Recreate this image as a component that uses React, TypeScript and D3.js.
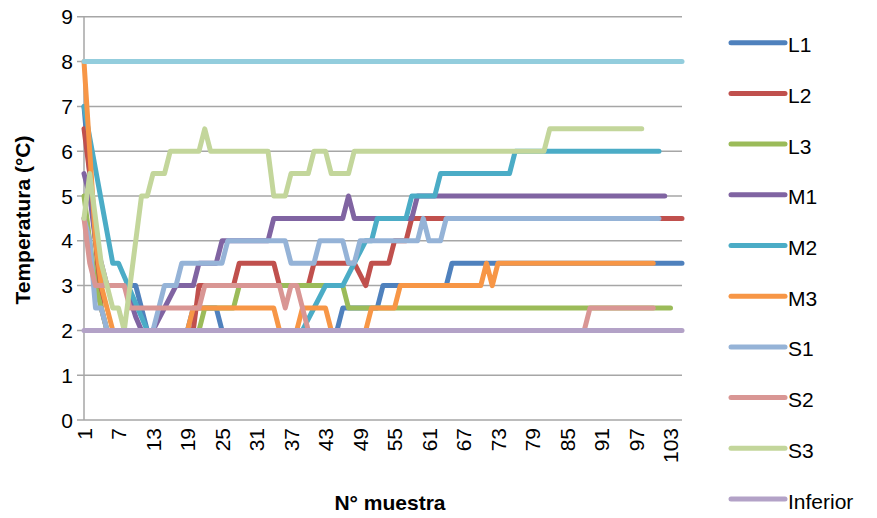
import React from "react";
import * as d3 from "d3";

const categories: number[] = d3.range(1, 106);
const tickLabels = ["1", "7", "13", "19", "25", "31", "37", "43", "49", "55", "61", "67", "73", "79", "85", "91", "97", "103"];
const yTicks = [0, 1, 2, 3, 4, 5, 6, 7, 8, 9];

const L1 = [
  7, 5.5, 4, 3, 3, 3, 3, 3, 3, 3,
  2.5, 2, 2, 2, 2, 2, 2, 2, 2, 2.5,
  2.5, 2.5, 2.5, 2.5, 2, 2, 2, 2, 2, 2,
  2, 2, 2, 2, 2, 2, 2, 2, 2, 2,
  2, 2, 2, 2, 2, 2.5, 2.5, 2.5, 2.5, 2.5,
  2.5, 2.5, 3, 3, 3, 3, 3, 3, 3, 3,
  3, 3, 3, 3, 3.5, 3.5, 3.5, 3.5, 3.5, 3.5,
  3.5, 3.5, 3.5, 3.5, 3.5, 3.5, 3.5, 3.5, 3.5, 3.5,
  3.5, 3.5, 3.5, 3.5, 3.5, 3.5, 3.5, 3.5, 3.5, 3.5,
  3.5, 3.5, 3.5, 3.5, 3.5, 3.5, 3.5, 3.5, 3.5, 3.5,
  3.5, 3.5, 3.5, 3.5, 3.5,
];
const L2 = [
  6.5, 5.5, 4, 2.5, 2, 2, 2, 2, 2, 2,
  2, 2, 2, 2, 2, 2, 2, 2, 2, 2,
  3, 3, 3, 3, 3, 3, 3, 3.5, 3.5, 3.5,
  3.5, 3.5, 3.5, 3.5, 3, 3, 3, 3, 3, 3,
  3.5, 3.5, 3.5, 3.5, 3.5, 3.5, 3.5, 3.5, 3.25, 3,
  3.5, 3.5, 3.5, 3.5, 4, 4, 4, 4.5, 4.5, 4.5,
  4.5, 4.5, 4.5, 4.5, 4.5, 4.5, 4.5, 4.5, 4.5, 4.5,
  4.5, 4.5, 4.5, 4.5, 4.5, 4.5, 4.5, 4.5, 4.5, 4.5,
  4.5, 4.5, 4.5, 4.5, 4.5, 4.5, 4.5, 4.5, 4.5, 4.5,
  4.5, 4.5, 4.5, 4.5, 4.5, 4.5, 4.5, 4.5, 4.5, 4.5,
  4.5, 4.5, 4.5, 4.5, 4.5,
];
const L3 = [
  5, 4, 3, 2.5, 2, 2, 2, 2, 2, 2,
  2, 2, 2, 2, 2, 2, 2, 2, 2, 2,
  2, 2.5, 2.5, 2.5, 2.5, 2.5, 2.5, 3, 3, 3,
  3, 3, 3, 3, 3, 3, 3, 3, 3, 3,
  3, 3, 3, 3, 3, 3, 2.5, 2.5, 2.5, 2.5,
  2.5, 2.5, 2.5, 2.5, 2.5, 2.5, 2.5, 2.5, 2.5, 2.5,
  2.5, 2.5, 2.5, 2.5, 2.5, 2.5, 2.5, 2.5, 2.5, 2.5,
  2.5, 2.5, 2.5, 2.5, 2.5, 2.5, 2.5, 2.5, 2.5, 2.5,
  2.5, 2.5, 2.5, 2.5, 2.5, 2.5, 2.5, 2.5, 2.5, 2.5,
  2.5, 2.5, 2.5, 2.5, 2.5, 2.5, 2.5, 2.5, 2.5, 2.5,
  2.5, 2.5, 2.5,
];
const M1 = [
  5.5, 5, 4, 3.5, 3, 3, 3, 3, 2.7, 2.3,
  2, 2, 2, 2.25, 2.5, 2.75, 3, 3, 3, 3,
  3.5, 3.5, 3.5, 3.5, 4, 4, 4, 4, 4, 4,
  4, 4, 4, 4.5, 4.5, 4.5, 4.5, 4.5, 4.5, 4.5,
  4.5, 4.5, 4.5, 4.5, 4.5, 4.5, 5, 4.5, 4.5, 4.5,
  4.5, 4.5, 4.5, 4.5, 4.5, 4.5, 4.5, 4.5, 5, 5,
  5, 5, 5, 5, 5, 5, 5, 5, 5, 5,
  5, 5, 5, 5, 5, 5, 5, 5, 5, 5,
  5, 5, 5, 5, 5, 5, 5, 5, 5, 5,
  5, 5, 5, 5, 5, 5, 5, 5, 5, 5,
  5, 5,
];
const M2 = [
  7, 6.3, 5.6, 4.9, 4.2, 3.5, 3.5, 3.2, 2.9, 2.6,
  2.3, 2, 2, 2, 2, 2, 2, 2, 2, 2,
  2, 2, 2, 2, 2, 2, 2, 2, 2, 2,
  2, 2, 2, 2, 2, 2, 2, 2, 2, 2.25,
  2.5, 2.75, 3, 3, 3, 3, 3.25, 3.5, 3.75, 4,
  4, 4.5, 4.5, 4.5, 4.5, 4.5, 4.5, 5, 5, 5,
  5, 5, 5.5, 5.5, 5.5, 5.5, 5.5, 5.5, 5.5, 5.5,
  5.5, 5.5, 5.5, 5.5, 5.5, 6, 6, 6, 6, 6,
  6, 6, 6, 6, 6, 6, 6, 6, 6, 6,
  6, 6, 6, 6, 6, 6, 6, 6, 6, 6,
  6,
];
const M3 = [
  8, 6, 4, 3, 2.5, 2, 2, 2, 2, 2,
  2, 2, 2, 2, 2, 2, 2, 2, 2, 2.5,
  2.5, 2.5, 2.5, 2.5, 2.5, 2.5, 2.5, 2.5, 2.5, 2.5,
  2.5, 2.5, 2.5, 2.5, 2, 2, 2, 2, 2.5, 2.5,
  2.5, 2.5, 2.5, 2, 2, 2, 2, 2, 2, 2,
  2.5, 2.5, 2.5, 2.5, 2.5, 3, 3, 3, 3, 3,
  3, 3, 3, 3, 3, 3, 3, 3, 3, 3,
  3.5, 3, 3.5, 3.5, 3.5, 3.5, 3.5, 3.5, 3.5, 3.5,
  3.5, 3.5, 3.5, 3.5, 3.5, 3.5, 3.5, 3.5, 3.5, 3.5,
  3.5, 3.5, 3.5, 3.5, 3.5, 3.5, 3.5, 3.5, 3.5, 3.5,
];
const S1 = [
  4.5, 4, 2.5, 2.5, 2, 2, 2, 2, 2, 2,
  2, 2, 2, 2.5, 3, 3, 3, 3.5, 3.5, 3.5,
  3.5, 3.5, 3.5, 3.5, 3.5, 4, 4, 4, 4, 4,
  4, 4, 4, 4, 4, 4, 3.5, 3.5, 3.5, 3.5,
  3.5, 4, 4, 4, 4, 4, 3.5, 3.5, 4, 4,
  4, 4, 4, 4, 4, 4, 4, 4, 4, 4.5,
  4, 4, 4, 4.5, 4.5, 4.5, 4.5, 4.5, 4.5, 4.5,
  4.5, 4.5, 4.5, 4.5, 4.5, 4.5, 4.5, 4.5, 4.5, 4.5,
  4.5, 4.5, 4.5, 4.5, 4.5, 4.5, 4.5, 4.5, 4.5, 4.5,
  4.5, 4.5, 4.5, 4.5, 4.5, 4.5, 4.5, 4.5, 4.5, 4.5,
  4.5,
];
const S2 = [
  4.5, 3.5, 3, 3, 3, 3, 3, 3, 2.5, 2.5,
  2.5, 2.5, 2.5, 2.5, 2.5, 2.5, 2.5, 2.5, 2.5, 2.5,
  2.5, 3, 3, 3, 3, 3, 3, 3, 3, 3,
  3, 3, 3, 3, 3, 2.5, 3, 3, 2.5, 2,
  2, 2, 2, 2, 2, 2, 2, 2, 2, 2,
  2, 2, 2, 2, 2, 2, 2, 2, 2, 2,
  2, 2, 2, 2, 2, 2, 2, 2, 2, 2,
  2, 2, 2, 2, 2, 2, 2, 2, 2, 2,
  2, 2, 2, 2, 2, 2, 2, 2, 2.5, 2.5,
  2.5, 2.5, 2.5, 2.5, 2.5, 2.5, 2.5, 2.5, 2.5, 2.5,
];
const S3 = [
  4.5, 5.5, 4.5, 3.5, 3, 2.5, 2.5, 2, 3, 4,
  5, 5, 5.5, 5.5, 5.5, 6, 6, 6, 6, 6,
  6, 6.5, 6, 6, 6, 6, 6, 6, 6, 6,
  6, 6, 6, 5, 5, 5, 5.5, 5.5, 5.5, 5.5,
  6, 6, 6, 5.5, 5.5, 5.5, 5.5, 6, 6, 6,
  6, 6, 6, 6, 6, 6, 6, 6, 6, 6,
  6, 6, 6, 6, 6, 6, 6, 6, 6, 6,
  6, 6, 6, 6, 6, 6, 6, 6, 6, 6,
  6, 6.5, 6.5, 6.5, 6.5, 6.5, 6.5, 6.5, 6.5, 6.5,
  6.5, 6.5, 6.5, 6.5, 6.5, 6.5, 6.5, 6.5,
];
const Inferior = [
  2, 2, 2, 2, 2, 2, 2, 2, 2, 2,
  2, 2, 2, 2, 2, 2, 2, 2, 2, 2,
  2, 2, 2, 2, 2, 2, 2, 2, 2, 2,
  2, 2, 2, 2, 2, 2, 2, 2, 2, 2,
  2, 2, 2, 2, 2, 2, 2, 2, 2, 2,
  2, 2, 2, 2, 2, 2, 2, 2, 2, 2,
  2, 2, 2, 2, 2, 2, 2, 2, 2, 2,
  2, 2, 2, 2, 2, 2, 2, 2, 2, 2,
  2, 2, 2, 2, 2, 2, 2, 2, 2, 2,
  2, 2, 2, 2, 2, 2, 2, 2, 2, 2,
  2, 2, 2, 2, 2,
];
const Superior = [
  8, 8, 8, 8, 8, 8, 8, 8, 8, 8,
  8, 8, 8, 8, 8, 8, 8, 8, 8, 8,
  8, 8, 8, 8, 8, 8, 8, 8, 8, 8,
  8, 8, 8, 8, 8, 8, 8, 8, 8, 8,
  8, 8, 8, 8, 8, 8, 8, 8, 8, 8,
  8, 8, 8, 8, 8, 8, 8, 8, 8, 8,
  8, 8, 8, 8, 8, 8, 8, 8, 8, 8,
  8, 8, 8, 8, 8, 8, 8, 8, 8, 8,
  8, 8, 8, 8, 8, 8, 8, 8, 8, 8,
  8, 8, 8, 8, 8, 8, 8, 8, 8, 8,
  8, 8, 8, 8, 8,
];

const seriesNames = ["L1", "L2", "L3", "M1", "M2", "M3", "S1", "S2", "S3", "Inferior", "Superior"];
const seriesValues = [L1, L2, L3, M1, M2, M3, S1, S2, S3, Inferior, Superior];
const seriesColors = ["#4f81bd", "#c0504d", "#9bbb59", "#8064a2", "#4bacc6", "#f79646", "#95b3d7", "#d99694", "#c3d69b", "#b3a2c7", "#93cddd"];
// the reference's legend is cut off after "Inferior"
const legendCount = 10;

const W = 877;
const H = 518;
const FONT = "'Liberation Sans', Arial, sans-serif";

export default function App() {
  const x = d3.scalePoint<number>().domain(categories).range([84, 682]);
  const y = d3.scaleLinear().domain([0, 9]).range([420, 16.8]);
  const line = d3
    .line<number>()
    .x((_, i) => x(categories[i]) as number)
    .y((d) => y(d));

  return (
    <svg width={W} height={H} style={{ position: "absolute", left: 0, top: 0, background: "#fff" }} fontFamily={FONT}>
      {yTicks.map((t) => (
        <g key={t}>
          <line x1={77} x2={682} y1={y(t)} y2={y(t)} stroke="#a6a6a6" strokeWidth={1.5} />
          <text x={73} y={y(t)} dy="0.36em" textAnchor="end" fontSize={21} fill="#000">
            {t}
          </text>
        </g>
      ))}
      <line x1={84} x2={84} y1={y(9)} y2={y(0)} stroke="#a6a6a6" strokeWidth={1.5} />
      {tickLabels.map((lab) => {
        const cx = x(+lab) as number;
        return (
          <text
            key={lab}
            transform={`translate(${cx},428) rotate(-90)`}
            dy="0.36em"
            textAnchor="end"
            fontSize={21}
            fill="#000"
          >
            {lab}
          </text>
        );
      })}
      {seriesValues.map((vals, k) => (
        <path
          key={seriesNames[k]}
          d={line(vals) || ""}
          fill="none"
          stroke={seriesColors[k]}
          strokeWidth={5}
          strokeLinejoin="round"
          strokeLinecap="round"
        />
      ))}
      <text transform="translate(22,220) rotate(-90)" dy="0.36em" textAnchor="middle" fontSize={21} fontWeight="bold">
        Temperatura (°C)
      </text>
      <text x={390} y={510} textAnchor="middle" fontSize={21} fontWeight="bold">
        N° muestra
      </text>
      {seriesNames.slice(0, legendCount).map((name, k) => {
        const ly = 42.7 + k * 50.7;
        return (
          <g key={name}>
            <line x1={731} x2={785} y1={ly} y2={ly} stroke={seriesColors[k]} strokeWidth={5} strokeLinecap="round" />
            <text x={788} y={ly + 2} dy="0.36em" fontSize={21} fill="#000">
              {name}
            </text>
          </g>
        );
      })}
    </svg>
  );
}
